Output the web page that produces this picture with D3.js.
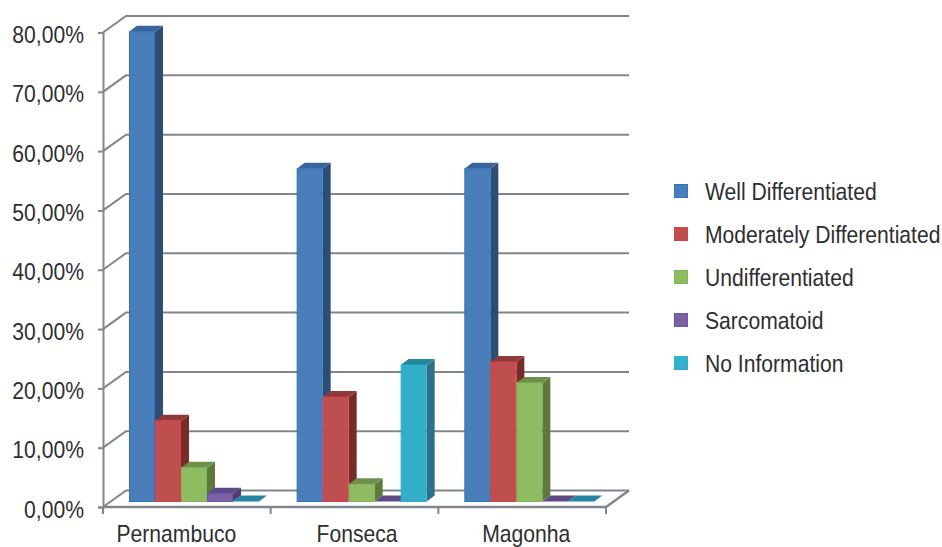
<html>

<head>
	<title>Histologic type by city</title>
	<script src="https://d3js.org/d3.v7.min.js"></script>
	<style>
		body {
			margin: 0;
			background: #fff;
			overflow: hidden;
		}

		text {
			font-family: "Liberation Sans", sans-serif;
			fill: #2e2e30;
		}
	</style>
</head>

<body>
	<div id="chart"></div>
	<script>
		let cities = ["Pernambuco", "Fonseca", "Magonha"];
		let types = ["Well Differentiated", "Moderately Differentiated", "Undifferentiated", "Sarcomatoid", "No Information"];
		let yTicks = [0, 10, 20, 30, 40, 50, 60, 70, 80];
		let yLabels = ["0,00%", "10,00%", "20,00%", "30,00%", "40,00%", "50,00%", "60,00%", "70,00%", "80,00%"];

		let wellValues = [79.2, 56.1, 56.1];
		let moderateValues = [13.6, 17.6, 23.5];
		let undiffValues = [5.7, 2.9, 20];
		let sarcomatoidValues = [1.3, 0, 0];
		let noInfoValues = [0, 23, 0];
		let seriesValues = [wellValues, moderateValues, undiffValues, sarcomatoidValues, noInfoValues];

		let frontColor = ["#4a7ebb", "#be4f4e", "#8fbc63", "#7d5fa8", "#33afc9"];
		let edgeColor = ["#2f72bf", "#dc3f4c", "#7fb850", "#6f55a8", "#28b0cc"];
		let sideColor = ["#2c4d75", "#772c2a", "#5c7a3c", "#4d3b72", "#2f7088"];
		let topColor = ["#3a6399", "#8f3a38", "#6e8f4a", "#5e4a86", "#24869f"];

		// wall depth of the fake 3d box, bars stand in the middle of it
		let wallDx = 23, wallDy = -16.5;
		let barDx = 8, barDy = -6;
		let lineColor = "#7f878c";
		let labelShift = [-10.5, 2.5, 4];

		let svg = d3.select("#chart").append("svg").attr("width", 942).attr("height", 547);

		// the original type is condensed and no narrow font is installed
		let narrow = 0.88;
		function condense(sel) {
			sel.each(function () {
				d3.select(this)
					.attr("textLength", this.getComputedTextLength() * narrow)
					.attr("lengthAdjust", "spacingAndGlyphs");
			});
		}

		let x = d3.scaleBand().domain(cities).range([103, 606]);
		let xType = d3.scaleBand().domain(types).range([26, 156]);
		let y = d3.scaleLinear().domain([0, 80]).range([507, 32.5]);
		let barBase = 501.5;
		let h = function (v) {
			return y(0) - y(v);
		};

		// back wall grid and left wall diagonals
		let grid = svg.append("g").attr("fill", "none").attr("stroke", lineColor).attr("stroke-width", 2);
		grid.selectAll(".back").data(yTicks).enter().append("path")
			.attr("d", function (d) {
				let p = d3.path();
				p.moveTo(103, y(d));
				p.lineTo(103 + wallDx, y(d) + wallDy);
				p.lineTo(606 + wallDx, y(d) + wallDy);
				return p.toString();
			});

		// floor front edge and right diagonal
		let floor = d3.path();
		floor.moveTo(103, y(0));
		floor.lineTo(606, y(0));
		floor.lineTo(606 + wallDx, y(0) + wallDy);
		grid.append("path").attr("d", floor.toString()).attr("stroke-width", 2.5);

		// axes
		let yAxis = d3.axisLeft(y).tickValues(yTicks).tickSize(5).tickPadding(14)
			.tickFormat(function (d, i) {
				return yLabels[i];
			});
		let yG = svg.append("g").attr("transform", "translate(103,0)").call(yAxis);
		yG.select(".domain").attr("stroke", lineColor).attr("stroke-width", 2);
		yG.selectAll("line").attr("stroke", lineColor).attr("stroke-width", 2);
		yG.selectAll("text")
			.attr("font-family", null)
			.attr("font-size", 24)
			.attr("y", 1.5)
			.attr("dy", "0.36em")
			.call(condense);

		let xEdges = [0, 1, 2, 3].map(function (i) {
			return 103 + i * x.bandwidth();
		});
		svg.append("g").selectAll("line").data(xEdges).enter().append("line")
			.attr("x1", function (d) { return d; })
			.attr("x2", function (d) { return d; })
			.attr("y1", y(0))
			.attr("y2", y(0) + 7)
			.attr("stroke", lineColor)
			.attr("stroke-width", 2);

		svg.append("g").selectAll("text").data(cities).enter().append("text")
			.attr("x", function (d, i) { return x(d) + x.bandwidth() / 2 + labelShift[i]; })
			.attr("y", 542)
			.attr("text-anchor", "middle")
			.attr("font-size", 24)
			.text(function (d) { return d; })
			.call(condense);

		// bars, one series at a time so later bars cover the sides of earlier ones
		let bars = [];
		types.forEach(function (t, s) {
			cities.forEach(function (c, i) {
				bars.push({
					s: s,
					x0: x(c) + xType(t),
					v: seriesValues[s][i]
				});
			});
		});
		bars.sort(function (a, b) {
			return a.x0 - b.x0;
		});

		let w = xType.bandwidth();
		let barG = svg.append("g").selectAll("g").data(bars).enter().append("g");
		barG.append("path")
			.attr("fill", function (d) { return sideColor[d.s]; })
			.attr("d", function (d) {
				let top = barBase - h(d.v);
				return "M" + (d.x0 + w) + "," + top + "l" + barDx + "," + barDy + "V" + (barBase + barDy) + "l" + (-barDx) + "," + (-barDy) + "Z";
			});
		barG.append("path")
			.attr("fill", function (d) { return topColor[d.s]; })
			.attr("d", function (d) {
				let top = barBase - h(d.v);
				return "M" + d.x0 + "," + top + "l" + barDx + "," + barDy + "h" + w + "l" + (-barDx) + "," + (-barDy) + "Z";
			});
		barG.filter(function (d) { return d.v > 0; }).append("rect")
			.attr("x", function (d) { return d.x0 + 0.5; })
			.attr("y", function (d) { return barBase - h(d.v); })
			.attr("width", w - 1)
			.attr("height", function (d) { return h(d.v); })
			.attr("fill", function (d) { return frontColor[d.s]; })
			.attr("stroke", function (d) { return edgeColor[d.s]; })
			.attr("stroke-width", 1);

		// legend
		let legendY = d3.scalePoint().domain(types).range([191, 363]);
		let legend = svg.append("g").selectAll("g").data(types).enter().append("g")
			.attr("transform", function (d) { return "translate(674," + legendY(d) + ")"; });
		legend.append("rect")
			.attr("x", 0.5)
			.attr("y", -6.5)
			.attr("width", 13)
			.attr("height", 13)
			.attr("fill", function (d, i) { return frontColor[i]; })
			.attr("stroke", function (d, i) { return edgeColor[i]; });
		legend.append("text")
			.attr("transform", "translate(31,0) scale(" + narrow + ",1)")
			.attr("dy", "0.36em")
			.attr("font-size", 24)
			.text(function (d) { return d; });
	</script>
</body>

</html>
